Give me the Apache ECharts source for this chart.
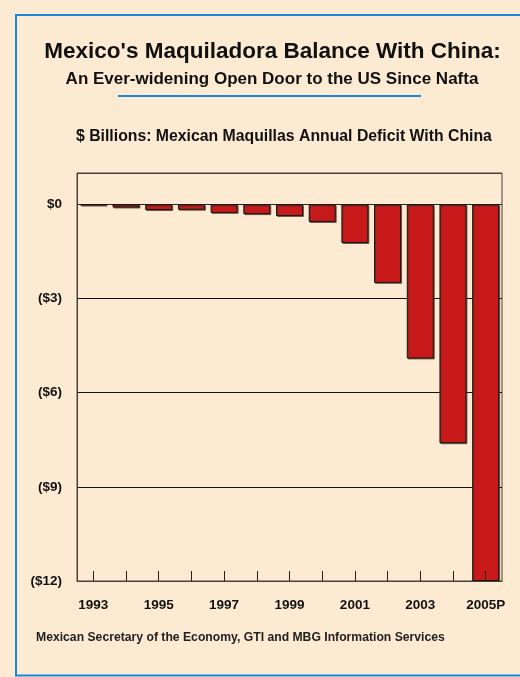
<!DOCTYPE html>
<html>
<head>
<meta charset="utf-8">
<script src="https://cdn.jsdelivr.net/npm/echarts@6/dist/echarts.min.js"></script>
<style>
html,body{margin:0;padding:0;background:#FDEAD3;}
#chart{width:520px;height:677px;}
</style>
</head>
<body>
<div id="chart"></div>
<script>
var years = ['1993','1994','1995','1996','1997','1998','1999','2000','2001','2002','2003','2004','2005P'];
var deficit = [-0.03,-0.10,-0.18,-0.17,-0.27,-0.31,-0.37,-0.56,-1.23,-2.50,-4.91,-7.61,-12.0];
var yTicks = [-12,-9,-6,-3,0];
var titleText = "Mexico's Maquiladora Balance With China:";
var subtitleText = "An Ever-widening Open Door to the US Since Nafta";
var unitText = "$ Billions: Mexican Maquillas Annual Deficit With China";
var sourceText = "Mexican Secretary of the Economy, GTI and MBG Information Services";

var chart = echarts.init(document.getElementById('chart'), null, {renderer:'canvas'});
var FONT = '"Liberation Sans", Arial, sans-serif';
chart.setOption({
  backgroundColor: '#FDEAD3',
  animation: false,
  graphic: [
    {type:'rect', shape:{x:16,y:15,width:540,height:660.5}, style:{fill:'none', stroke:'#1C86DA', lineWidth:2}, z:100},
    {type:'text', x:272.5, y:52, style:{text:titleText, fill:'#111', font:'bold 22.5px '+FONT, textAlign:'center', textVerticalAlign:'middle'}},
    {type:'text', x:272, y:79, style:{text:subtitleText, fill:'#111', font:'bold 17px '+FONT, textAlign:'center', textVerticalAlign:'middle'}},
    {type:'line', shape:{x1:118, y1:96, x2:421, y2:96}, style:{stroke:'#1C86DA', lineWidth:2}},
    {type:'text', x:76, y:137, style:{text:unitText, fill:'#111', font:'bold 15.8px '+FONT, textAlign:'left', textVerticalAlign:'middle'}},
    {type:'text', x:36, y:638, style:{text:sourceText, fill:'#222', font:'bold 12.2px '+FONT, textAlign:'left', textVerticalAlign:'middle'}}
  ],
  grid: {left:77, top:173, width:425, height:408, show:true, borderColor:'#4a4038', borderWidth:1, backgroundColor:'transparent'},
  xAxis: {
    type:'category', data: years, z:5,
    axisLine:{show:true, onZero:false, lineStyle:{color:'#4a4038', width:1}},
    axisTick:{show:true, inside:true, interval:0, alignWithLabel:true, length:10, lineStyle:{color:'#222', width:1}},
    axisLabel:{interval:1, margin:17, color:'#111', fontWeight:'bold', fontSize:13.5, fontFamily:FONT},
    splitLine:{show:false}
  },
  yAxis: {
    type:'value', min:-12, max:1, interval:3,
    axisLine:{show:true, lineStyle:{color:'#4a4038', width:1}},
    axisTick:{show:false},
    axisLabel:{margin:15, color:'#111', fontWeight:'bold', fontSize:13.5, fontFamily:FONT,
      formatter:function(v){ if (yTicks.indexOf(v) < 0) return ''; if (v===0) return '$0'; return '($'+(-v)+')'; }},
    splitLine:{show:true, lineStyle:{color:['#4a4038','#111','#111','#111','#222','#4a4038'], width:1}}
  },
  series: [{
    type:'bar', data: deficit, barWidth:27,
    itemStyle:{color:'#C8191A', borderColor:'#1a1410', borderWidth:1,
      shadowColor:'rgba(70,55,40,0.7)', shadowOffsetX:1, shadowOffsetY:1, shadowBlur:0}
  }]
});
</script>
</body>
</html>
